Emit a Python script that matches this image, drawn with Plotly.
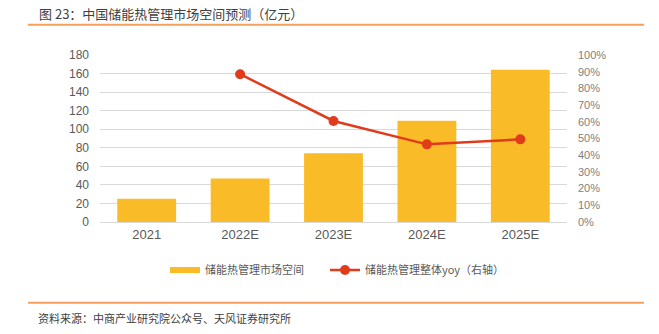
import plotly.graph_objects as go

categories = ["2021", "2022E", "2023E", "2024E", "2025E"]
market_size = [25, 47, 74, 109, 164]
yoy_pct = [None, 88.5, 60.5, 46.5, 49.5]
left_ticks = list(range(0, 181, 20))
right_ticks = list(range(0, 101, 10))
right_labels = [f"{v}%" for v in right_ticks]

title_text = "图 23：中国储能热管理市场空间预测（亿元）"
source_text = "资料来源：中商产业研究院公众号、天风证券研究所"
bar_name = "储能热管理市场空间"
line_name = "储能热管理整体yoy（右轴）"

W, H = 659, 334
L, R, T, B = 100, 567, 55, 222
pw, ph = R - L, B - T

def px(x):
    return (x - L) / pw

def py(y):
    return (B - y) / ph

CJK = "Noto Sans CJK SC"
LAT = "Liberation Sans, Arial, sans-serif"
BAR_C = "#F9BB28"
LINE_C = "#E03C1C"

fig = go.Figure()
fig.add_trace(go.Bar(
    x=categories, y=market_size, name=bar_name,
    marker=dict(color=BAR_C, line=dict(width=0)),
    yaxis="y", showlegend=False,
))
# legend proxy for the bar series (wide swatch like the original)
fig.add_trace(go.Scatter(
    x=[None], y=[None], name=bar_name, mode="lines",
    line=dict(color=BAR_C, width=6), yaxis="y", legend="legend",
))
fig.add_trace(go.Scatter(
    x=categories, y=yoy_pct, name=line_name, mode="lines+markers",
    line=dict(color=LINE_C, width=2.5),
    marker=dict(color=LINE_C, size=10),
    yaxis="y2", legend="legend2",
))

legend_common = dict(
    orientation="h", xanchor="left", y=py(270), yanchor="middle",
    font=dict(family=CJK, size=11, color="#595959"),
    itemwidth=30, bgcolor="rgba(0,0,0,0)",
)

fig.update_layout(
    width=W, height=H,
    margin=dict(l=L, r=W - R, t=T, b=H - B, autoexpand=False),
    paper_bgcolor="white", plot_bgcolor="white",
    bargap=0.37,
    showlegend=True,
    legend=dict(x=px(165), **legend_common),
    legend2=dict(x=px(325), **legend_common),
    xaxis=dict(
        type="category", showgrid=False, zeroline=False,
        showline=True, linecolor="#d9d9d9", linewidth=1,
        ticks="", tickfont=dict(family=LAT, size=13, color="#595959"),
        range=[-0.5, 4.5],
    ),
    yaxis=dict(
        range=[0, 180], tickvals=left_ticks, showgrid=True,
        gridcolor="#d9d9d9", gridwidth=1, zeroline=False,
        ticks="", tickfont=dict(family=LAT, size=12, color="#595959"),
        ticklabelstandoff=10,
    ),
    yaxis2=dict(
        range=[0, 100], tickvals=right_ticks, ticktext=right_labels,
        overlaying="y", side="right", showgrid=False, zeroline=False,
        ticks="", tickfont=dict(family=LAT, size=11, color="#808080"),
        ticklabelstandoff=10,
    ),
    font=dict(family=CJK),
)

fig.add_annotation(
    text=title_text, xref="paper", yref="paper", x=px(37), y=py(14),
    xanchor="left", yanchor="middle", showarrow=False,
    font=dict(family=CJK, size=13, color="#404040"),
)
fig.add_annotation(
    text=source_text, xref="paper", yref="paper", x=px(36), y=py(318),
    xanchor="left", yanchor="middle", showarrow=False,
    font=dict(family=CJK, size=11, color="#404040"),
)
for yy in (24.7, 302.7):
    fig.add_shape(
        type="line", xref="paper", yref="paper",
        x0=px(28), x1=px(644), y0=py(yy), y1=py(yy),
        line=dict(color="#F5A05A", width=2),
    )

fig.write_html("out.html")
